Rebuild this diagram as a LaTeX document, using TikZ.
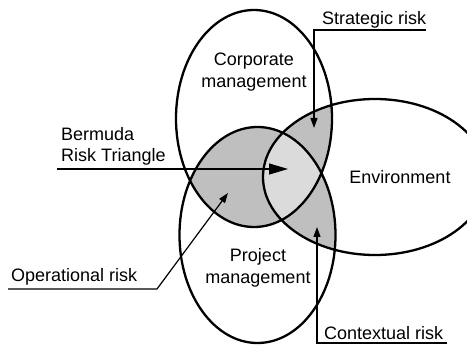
\documentclass[tikz,border=0pt]{standalone}
\usepackage{fontspec}
\setmainfont{Liberation Sans}
\usetikzlibrary{arrows.meta}
\begin{document}
\begin{tikzpicture}[x=1pt,y=-1pt,>={Triangle[length=10pt,width=7pt]},
    vien/.style={line width=2.3pt},
    chu/.style={font=\fontsize{18}{21.5}\selectfont,inner sep=0pt,align=center},
    duong/.style={line width=1.2pt,->}]
    \def\vungA{(254,118.5) ellipse (78pt and 108.5pt)}%quản lý doanh nghiệp
    \def\vungB{(257.5,235) ellipse (78pt and 108pt)}%quản lý dự án
    \def\vungC{(375,177) ellipse (112pt and 78pt)}%môi trường
    \useasboundingbox (0,0) rectangle (467,345);
    \clip (0,0) rectangle (467,345);
    \begin{scope}
        \clip \vungA;
        \fill[black!25] \vungB;
        \fill[black!25] \vungC;
    \end{scope}
    \begin{scope}
        \clip \vungB;
        \fill[black!25] \vungC;
    \end{scope}
    \begin{scope}
        \clip \vungA;
        \clip \vungB;
        \fill[black!14] \vungC;
    \end{scope}
    \draw[vien] \vungA \vungB \vungC;
    \path
    (254,72) node[chu] (corp) {Corporate\\management}
    (258,268) node[chu] (proj) {Project\\management}
    (400,184) node[chu,anchor=base] (env) {Environment}
    (61,146.5) node[chu,anchor=west,align=left] (bermuda) {Bermuda\\Risk Triangle}
    (322,25) node[chu,anchor=base west] (strat) {Strategic risk}
    (324,339) node[chu,anchor=base west] (ctx) {Contextual risk}
    (11,282) node[chu,anchor=base west] (oper) {Operational risk}
    ;
    \path
    (57,169) coordinate (b0) (288,169) coordinate (b1)
    (426,30) coordinate (s0) (314,30) coordinate (s1) (314,128) coordinate (s2)
    (447,343) coordinate (c0) (317,343) coordinate (c1) (317,227) coordinate (c2)
    (8,289) coordinate (o0) (157,289) coordinate (o1) (228,193) coordinate (o2)
    ;
    \draw[duong,>={Triangle[length=19pt,width=11pt]}] (b0)--(b1);
    \draw[duong] (s0)--(s1)--(s2);
    \draw[duong] (c0)--(c1)--(c2);
    \draw[duong] (o0)--(o1)--(o2);
\end{tikzpicture}
\end{document}
